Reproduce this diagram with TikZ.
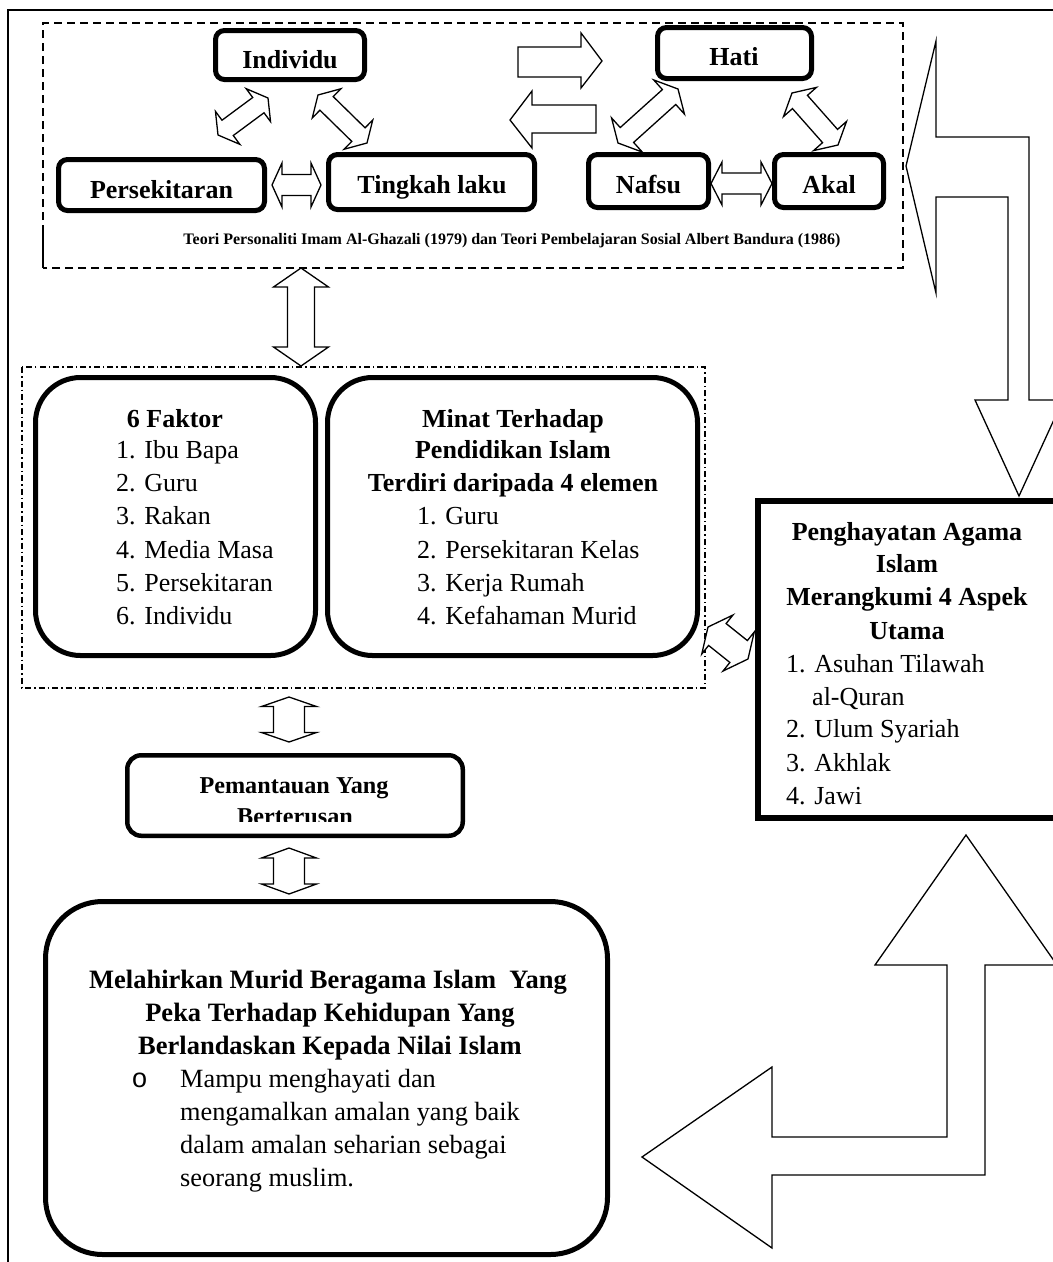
\documentclass[tikz,border=0pt]{standalone}
\usepackage{fontspec}
\setmainfont{Liberation Serif}
\newfontfamily\bulf{Liberation Sans}
\usetikzlibrary{calc}
\tikzset{
 blk/.style={draw, line width=1.3pt, fill=white, line join=miter},
 tbox/.style={draw, line width=5pt, rounded corners=9pt, inner sep=0pt},
 rbox/.style={draw, line width=5pt, rounded corners=45pt, inner sep=0pt},
 txt/.style={inner sep=0pt, font=\fontsize{26}{30}\selectfont},
 btxt/.style={inner sep=0pt, font=\fontsize{26}{30}\selectfont\bfseries},
 obtxt/.style={inner sep=0pt, font=\fontsize{26.5}{30}\selectfont\bfseries},
 ptxt/.style={inner sep=0pt, font=\fontsize{24.2}{28}\selectfont\bfseries},
 captxt/.style={inner sep=0pt, font=\fontsize{16}{18}\selectfont\bfseries},
}
\newcommand\dblarrow[5]{%
 \coordinate (dA) at #1; \coordinate (dB) at #2;
 \draw[blk] (dA)
  -- ($(dA)!#3!(dB)!#4!90:(dB)$)
  -- ($(dA)!#3!(dB)!#5!90:(dB)$)
  -- ($(dB)!#3!(dA)!#5!-90:(dA)$)
  -- ($(dB)!#3!(dA)!#4!-90:(dA)$)
  -- (dB)
  -- ($(dB)!#3!(dA)!#4!90:(dA)$)
  -- ($(dB)!#3!(dA)!#5!90:(dA)$)
  -- ($(dA)!#3!(dB)!#5!-90:(dB)$)
  -- ($(dA)!#3!(dB)!#4!-90:(dB)$)
  -- cycle;}
\begin{document}
\begin{tikzpicture}[x=1pt,y=-1pt]
\useasboundingbox (0,0) rectangle (1053,1262);
\clip (0,0) rectangle (1053,1262);
\fill[white] (0,0) rectangle (1053,1262);
% outer frame
\draw[line width=1.5pt] (8,1300) -- (8,10) -- (1100,10);
% dashed theory box
\draw[line width=2pt, dash pattern=on 8pt off 5pt] (43,233) -- (43,23) -- (903,23) -- (903,268) -- (43,268);
\draw[line width=2pt] (43,233) -- (43,268);
% top nodes
\node[tbox, minimum width=149pt, minimum height=49pt] (ind) at (290,55) {};
\node[tbox, minimum width=154pt, minimum height=51pt] (hati) at (734.5,53) {};
\node[tbox, minimum width=206pt, minimum height=51pt] (pers) at (161.5,185) {};
\node[tbox, minimum width=206pt, minimum height=55pt] (ting) at (431.5,182) {};
\node[tbox, minimum width=120pt, minimum height=53pt] (nafsu) at (648.5,181) {};
\node[tbox, minimum width=109pt, minimum height=53pt] (akal) at (829,181) {};
\node[btxt, anchor=base] (indt) at (290,68.5) {Individu};
\node[btxt, anchor=base] (hatit) at (734,65) {Hati};
\node[btxt, anchor=base] (perst) at (161.5,198) {Persekitaran};
\node[btxt, anchor=base] (tingt) at (432,193) {Tingkah laku};
\node[btxt, anchor=base] (nafsut) at (648.5,193) {Nafsu};
\node[btxt, anchor=base] (akalt) at (829,193) {Akal};
\node[captxt, anchor=base] (cap) at (512,244) {Teori Personaliti Imam Al-Ghazali (1979) dan Teori Pembelajaran Sosial Albert Bandura (1986)};
% top arrows
\dblarrow{(218,135)}{(268,98)}{12pt}{20.5pt}{9.5pt}
\dblarrow{(318,95)}{(367,143)}{12pt}{20.5pt}{9.5pt}
\dblarrow{(618,143)}{(678,89)}{12pt}{23pt}{10pt}
\dblarrow{(792,93)}{(838,145)}{12pt}{22pt}{10pt}
\dblarrow{(272,185)}{(321,185)}{10pt}{22pt}{10.5pt}
\dblarrow{(711,183.5)}{(772,183.5)}{11pt}{21.5pt}{10.5pt}
\draw[blk] (518,47) -- (581,47) -- (581,33) -- (602,61) -- (581,88) -- (581,77) -- (518,77) -- cycle;
\draw[blk] (510,120) -- (532,91) -- (532,105) -- (596,105) -- (596,133) -- (532,133) -- (532,148) -- cycle;
% big right bent arrow
\draw[blk] (906,166) -- (936,41) -- (936,137) -- (1029,137) -- (1029,400) -- (1063,400) -- (1019,496) -- (975,400) -- (1008,400) -- (1008,197) -- (936,197) -- (936,293) -- cycle;
% vertical arrow top -> middle
\dblarrow{(301,268)}{(301,366)}{19pt}{27.5pt}{13.5pt}
% dash-dot box
\draw[line width=1.2pt, dash pattern=on 6pt off 3pt on 1.5pt off 3pt] (22,367) rectangle (705,688);
\node[rbox, minimum width=280pt, minimum height=278pt] (fak) at (175.5,516.5) {};
\node[rbox, minimum width=370pt, minimum height=278pt] (minat) at (512.5,516.5) {};
\node[btxt, anchor=base] (fakh) at (175,427) {6 Faktor};
\node[txt, anchor=base west] (f1) at (116,458) {1. Ibu Bapa};
\node[txt, anchor=base west] (f2) at (116,491) {2. Guru};
\node[txt, anchor=base west] (f3) at (116,524) {3. Rakan};
\node[txt, anchor=base west] (f4) at (116,558) {4. Media Masa};
\node[txt, anchor=base west] (f5) at (116,591) {5. Persekitaran};
\node[txt, anchor=base west] (f6) at (116,624) {6. Individu};
\node[btxt, anchor=base] (m1) at (513,427) {Minat Terhadap};
\node[btxt, anchor=base] (m2) at (513,458) {Pendidikan Islam};
\node[btxt, anchor=base] (m3) at (513,491) {Terdiri daripada 4 elemen};
\node[txt, anchor=base west] (mi1) at (417,524) {1. Guru};
\node[txt, anchor=base west] (mi2) at (417,558) {2. Persekitaran Kelas};
\node[txt, anchor=base west] (mi3) at (417,591) {3. Kerja Rumah};
\node[txt, anchor=base west] (mi4) at (417,624) {4. Kefahaman Murid};
% Penghayatan box
\node[draw, line width=6pt, minimum width=310pt, minimum height=317pt, inner sep=0pt] (peng) at (913,659) {};
\node[btxt, anchor=base] (p1) at (907,540) {Penghayatan Agama};
\node[btxt, anchor=base] (p2) at (907,572) {Islam};
\node[btxt, anchor=base] (p3) at (907,605) {Merangkumi 4 Aspek};
\node[btxt, anchor=base] (p4) at (907,639) {Utama};
\node[txt, anchor=base west] (pi1) at (786,672) {1. Asuhan Tilawah};
\node[txt, anchor=base west] (pi1b) at (812,705) {al-Quran};
\node[txt, anchor=base west] (pi2) at (786,737) {2. Ulum Syariah};
\node[txt, anchor=base west] (pi3) at (786,771) {3. Akhlak};
\node[txt, anchor=base west] (pi4) at (786,804) {4. Jawi};
% small diagonal arrow minat <-> peng
\dblarrow{(708,627)}{(748,659)}{12pt}{25pt}{14pt}
% vertical arrows below
\dblarrow{(289,697)}{(289,742)}{9.5pt}{27.5pt}{15.5pt}
\node[draw, line width=4.5pt, rounded corners=14pt, minimum width=335.5pt, minimum height=80.5pt, inner sep=0pt] (pem) at (295,795.5) {};
\node[ptxt, anchor=base] (pemt1) at (294,793) {Pemantauan Yang};
\begin{scope}
\clip (150,800) rectangle (450,821);
\node[ptxt, anchor=base] (pemt2) at (295,824) {Berterusan};
\end{scope}
\dblarrow{(289,848)}{(289,894)}{10pt}{27.5pt}{15.5pt}
% bottom box
\node[draw, line width=5pt, rounded corners=57pt, minimum width=562pt, minimum height=353pt, inner sep=0pt] (out) at (326.5,1078) {};
\node[obtxt, anchor=base] (o1) at (328,988) {Melahirkan Murid Beragama Islam \ Yang};
\node[obtxt, anchor=base] (o2) at (330,1021) {Peka Terhadap Kehidupan Yang};
\node[obtxt, anchor=base] (o3) at (330,1054) {Berlandaskan Kepada Nilai Islam};
\node[inner sep=0pt, anchor=base west, font=\fontsize{27}{30}\bulf] (bul) at (132,1087) {o};
\node[txt, anchor=base west, font=\fontsize{26.3}{30}\selectfont] (b1) at (180,1087) {Mampu menghayati dan};
\node[txt, anchor=base west, font=\fontsize{26.3}{30}\selectfont] (b2) at (180,1120) {mengamalkan amalan yang baik};
\node[txt, anchor=base west, font=\fontsize{26.3}{30}\selectfont] (b3) at (180,1153) {dalam amalan seharian sebagai};
\node[txt, anchor=base west, font=\fontsize{26.3}{30}\selectfont] (b4) at (180,1186) {seorang muslim.};
% bottom bent arrow
\draw[blk] (966,835) -- (1057,965) -- (985,965) -- (985,1175) -- (772,1175) -- (772,1248) -- (642,1157) -- (772,1067) -- (772,1137) -- (947,1137) -- (947,965) -- (875,965) -- cycle;
\end{tikzpicture}
\end{document}
